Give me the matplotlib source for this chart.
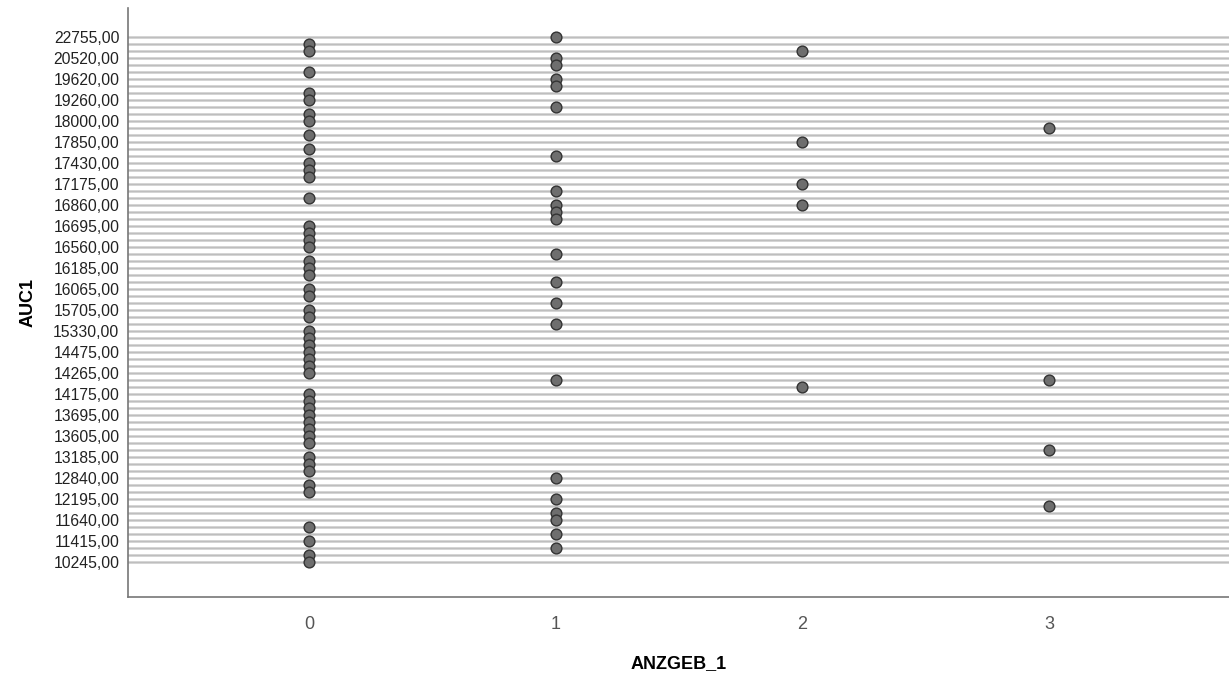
import matplotlib
matplotlib.use("Agg")
import matplotlib.pyplot as plt
import numpy as np

plt.rcParams['font.family'] = ['Liberation Sans', 'DejaVu Sans']

# distinct AUC1 values (categorical axis in the source, sorted)
# labelled ones, the others estimated in between
auc_levels = [
    22755, 21950, 21130, 20520, 20235, 19890, 19620, 19480, 19385, 19260,
    18870, 18320, 18000, 17960, 17905, 17850, 17700, 17555, 17430, 17345,
    17260, 17175, 17050, 16935, 16860, 16790, 16740, 16695, 16650, 16605,
    16560, 16430, 16300, 16185, 16145, 16100, 16065, 15940, 15820, 15705,
    15580, 15455, 15330, 15010, 14740, 14475, 14405, 14335, 14265, 14235,
    14205, 14175, 14015, 13855, 13695, 13665, 13635, 13605, 13465, 13325,
    13185, 13070, 12955, 12840, 12625, 12410, 12195, 12010, 11825, 11640,
    11565, 11490, 11415, 11025, 10635, 10245,
]

auc_anz0 = [21950, 21130, 19890, 19385, 19260, 18320, 18000, 17905, 17700,
            17430, 17345, 17260, 16935, 16695, 16650, 16605, 16560, 16300,
            16185, 16145, 16065, 15940, 15705, 15580, 15330, 15010, 14740,
            14475, 14405, 14335, 14265, 14175, 14015, 13855, 13695, 13665,
            13635, 13605, 13465, 13185, 13070, 12955, 12625, 12410, 11565,
            11415, 10635, 10245]
auc_anz1 = [22755, 20520, 20235, 19620, 19480, 18870, 17555, 17050, 16860,
            16790, 16740, 16430, 16100, 15820, 15455, 14235, 12840, 12195,
            11825, 11640, 11490, 11025]
auc_anz2 = [21130, 17850, 17175, 16860, 14205]
auc_anz3 = [17960, 14235, 13325, 12010]

groups = {0: auc_anz0, 1: auc_anz1, 2: auc_anz2, 3: auc_anz3}

levels = np.sort(np.array(auc_levels))  # ascending -> bottom to top

fig = plt.figure(figsize=(12.29, 6.79), dpi=100)
ax = fig.add_axes([0.104, 0.121, 0.896, 0.867])

for i in range(len(levels)):
    ax.axhline(i, color='#cccccc', lw=1.9, zorder=1)
    ax.axhline(i, color='#b8b8b8', lw=0.5, zorder=1)

for g, vals in groups.items():
    pos = np.searchsorted(levels, vals)
    ax.scatter(np.full(len(pos), g), pos, s=60, facecolor='#6e6e6e',
               edgecolor='#333333', linewidth=1.0, zorder=3)

ticks = np.arange(0, len(levels), 3)
ax.set_yticks(ticks)
ax.set_yticklabels([f"{levels[t]:.2f}".replace('.', ',') for t in ticks],
                   fontsize=11.3, color='#222222')
ax.set_xticks([0, 1, 2, 3])
ax.set_xticklabels(['0', '1', '2', '3'], fontsize=13, color='#555555')
ax.tick_params(axis='both', length=0)
ax.tick_params(axis='x', pad=14)
ax.tick_params(axis='y', pad=6)

ax.set_xlim(-0.734, 3.73)
ax.set_ylim(-5, len(levels) - 1 + 4.14)

for s in ['top', 'right']:
    ax.spines[s].set_visible(False)
for s in ['left', 'bottom']:
    ax.spines[s].set_color('#777777')
    ax.spines[s].set_linewidth(1.2)

ax.set_xlabel('ANZGEB_1', fontsize=13, fontweight='bold', labelpad=16)
ax.set_ylabel('AUC1', fontsize=13, fontweight='bold', labelpad=12)

fig.savefig('out.png', dpi=100)
